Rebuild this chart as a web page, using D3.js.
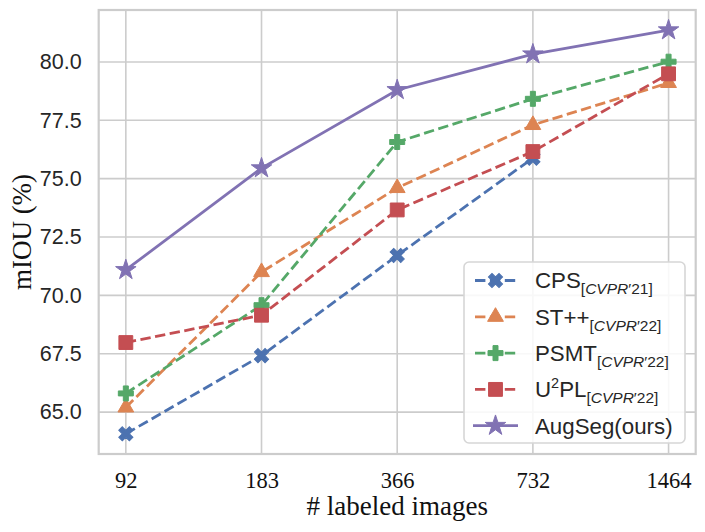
<!DOCTYPE html>
<html>
<head>
<meta charset="utf-8">
<script src="https://cdn.jsdelivr.net/npm/d3@7"></script>
<style>
  html, body { margin: 0; padding: 0; background: #fff; }
  svg { display: block; }
</style>
</head>
<body>
<svg id="chart" width="705" height="532"></svg>
<script>
// data
const labeled = ["92", "183", "366", "732", "1464"];
const yTicks = [65, 67.5, 70, 72.5, 75, 77.5, 80];

const cps    = [64.07, 67.42, 71.71, 75.88, null];
const stpp   = [65.2, 71.0, 74.6, 77.3, 79.1];
const psmt   = [65.80, 69.58, 76.57, 78.42, 80.01];
const u2pl   = [67.98, 69.15, 73.66, 76.16, 79.49];
const augseg = [71.09, 75.45, 78.80, 80.33, 81.36];

const seriesNames = ["CPS", "ST++", "PSMT", "U2PL", "AugSeg(ours)"];
const venues = ["21", "22", "22", "22", null];

// styling
const colors = ["#4c72b0", "#dd8452", "#55a868", "#c44e52", "#8172b3"];
const dashed = [true, true, true, true, false];
const allSeries = [cps, stpp, psmt, u2pl, augseg];

const W = 705, H = 532;
const margin = {top: 10, right: 9.3, bottom: 78, left: 98.7};
const iw = W - margin.left - margin.right;
const ih = H - margin.top - margin.bottom;

const svg = d3.select("#chart");
const g = svg.append("g").attr("transform", `translate(${margin.left},${margin.top})`);

// x: categorical, 5% padding each side like matplotlib
const xScale = d3.scalePoint().domain(labeled).range([0, iw]).padding(0.2);

const allVals = allSeries.flat().filter(v => v != null);
const lo = d3.min(allVals), hi = d3.max(allVals);
const pad = (hi - lo) * 0.05;
const yScale = d3.scaleLinear().domain([lo - pad, hi + pad]).range([ih, 0]);

// grid
g.append("g").selectAll("line").data(yTicks).join("line")
  .attr("x1", 0).attr("x2", iw)
  .attr("y1", d => yScale(d)).attr("y2", d => yScale(d))
  .attr("stroke", "#cccccc").attr("stroke-width", 1.6);
g.append("g").selectAll("line").data(labeled).join("line")
  .attr("y1", 0).attr("y2", ih)
  .attr("x1", d => xScale(d)).attr("x2", d => xScale(d))
  .attr("stroke", "#cccccc").attr("stroke-width", 1.6);

// axes (labels only, no tick marks)
const yAxis = d3.axisLeft(yScale).tickValues(yTicks).tickFormat(d3.format(".1f"))
  .tickSize(0).tickPadding(17);
const gy = g.append("g").call(yAxis);
gy.select(".domain").remove();
gy.selectAll("text").attr("font-family", "Liberation Sans, Arial, sans-serif")
  .attr("font-size", 21.5).attr("fill", "#262626");

const xAxis = d3.axisBottom(xScale).tickSize(0).tickPadding(18);
const gx = g.append("g").attr("transform", `translate(0,${ih})`).call(xAxis);
gx.select(".domain").remove();
gx.selectAll("text").attr("font-family", "Liberation Serif, Times New Roman, serif")
  .attr("font-size", 22.5).attr("fill", "#111");

// frame
g.append("rect").attr("x", 0).attr("y", 0).attr("width", iw).attr("height", ih)
  .attr("fill", "none").attr("stroke", "#cccccc").attr("stroke-width", 2.2);

// axis labels
svg.append("text")
  .attr("x", margin.left + iw / 2).attr("y", 515)
  .attr("text-anchor", "middle")
  .attr("font-family", "Liberation Serif, Times New Roman, serif")
  .attr("font-size", 27).attr("fill", "#111")
  .text("# labeled images");
svg.append("text")
  .attr("transform", `translate(31,${margin.top + ih / 2}) rotate(-90)`)
  .attr("text-anchor", "middle")
  .attr("font-family", "Liberation Serif, Times New Roman, serif")
  .attr("font-size", 27).attr("fill", "#111")
  .text("mIOU (%)");

// marker shapes
const markerShape = [
  {type: d3.symbolCross, size: 125, rot: 45},
  {type: d3.symbolTriangle, size: 108, rot: 0},
  {type: d3.symbolCross, size: 125, rot: 0},
  {type: d3.symbolSquare, size: 192, rot: 0},
  {type: d3.symbolStar, size: 130, rot: 0}
];
const symbolPath = i => d3.symbol().type(markerShape[i].type).size(markerShape[i].size)();

const line = d3.line()
  .defined(d => d.v != null)
  .x(d => xScale(d.k))
  .y(d => yScale(d.v));

allSeries.forEach((vals, i) => {
  const pts = vals.map((v, j) => ({k: labeled[j], v: v}));
  g.append("path")
    .datum(pts)
    .attr("d", line)
    .attr("fill", "none")
    .attr("stroke", colors[i])
    .attr("stroke-width", 2.8)
    .attr("stroke-dasharray", dashed[i] ? "10.4,4.5" : null);
  g.append("g").selectAll("path").data(pts.filter(p => p.v != null)).join("path")
    .attr("d", symbolPath(i))
    .attr("transform", p => `translate(${xScale(p.k)},${yScale(p.v)}) rotate(${markerShape[i].rot})`)
    .attr("fill", colors[i])
    .attr("stroke", colors[i])
    .attr("stroke-width", 1);
});

// legend
const lg = svg.append("g").attr("transform", "translate(464,262)");
lg.append("rect").attr("x", 0).attr("y", 0).attr("width", 221).attr("height", 181)
  .attr("rx", 5).attr("fill", "#fff").attr("fill-opacity", 0.85)
  .attr("stroke", "#d6d6d6").attr("stroke-width", 1.6);

const rowY = i => 18.5 + i * 36.3;
seriesNames.forEach((name, i) => {
  const row = lg.append("g").attr("transform", `translate(0,${rowY(i)})`);
  row.append("line").attr("x1", 9).attr("x2", 54).attr("y1", 0).attr("y2", 0)
    .attr("stroke", colors[i]).attr("stroke-width", 2.8)
    .attr("stroke-dasharray", dashed[i] ? "10.4,4.5" : null)
    .attr("stroke-dashoffset", dashed[i] ? -2 : null);
  row.append("path").attr("d", symbolPath(i))
    .attr("transform", `translate(31.5,0) rotate(${markerShape[i].rot})`)
    .attr("fill", colors[i]).attr("stroke", colors[i]).attr("stroke-width", 1);

  const t = row.append("text").attr("x", 71).attr("y", 7.8)
    .attr("font-family", "Liberation Sans, Arial, sans-serif")
    .attr("font-size", 22.3).attr("fill", "#262626");
  if (name === "U2PL") {
    t.append("tspan").text("U");
    t.append("tspan").attr("font-size", 14.5).attr("dy", -9).text("2");
    t.append("tspan").attr("dy", 9).text("PL");
  } else {
    t.append("tspan").text(name);
  }
  if (venues[i]) {
    const sub = t.append("tspan").attr("font-size", 15.5).attr("dy", 6);
    sub.append("tspan").text("[");
    sub.append("tspan").attr("font-style", "italic").text("CVPR");
    sub.append("tspan").text("\u2032" + venues[i] + "]");
  }
});
</script>
</body>
</html>
